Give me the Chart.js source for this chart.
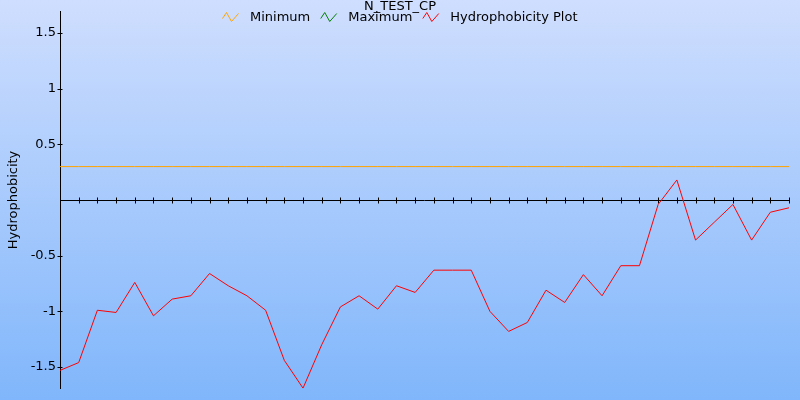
<!DOCTYPE html>
<html>
<head>
<meta charset="utf-8">
<script src="https://cdn.jsdelivr.net/npm/chart.js@4"></script>
<style>
  html, body { margin: 0; padding: 0; }
  #wrap {
    width: 800px; height: 400px;
    background: linear-gradient(#cfdefe, #80b6fb);
  }
</style>
</head>
<body>
<div id="wrap"><canvas id="myChart" width="800" height="400"></canvas></div>
<script>
const chartTitle = "N_TEST_CP";
const positions = [];
for (let i = 0; i < 40; i++) positions.push(i);
const hydrophobicity = [
  -1.53, -1.46, -0.99, -1.01, -0.74, -1.04, -0.89, -0.86, -0.66, -0.77,
  -0.86, -0.99, -1.44, -1.69, -1.30, -0.96, -0.86, -0.98, -0.77, -0.83,
  -0.63, -0.63, -0.63, -1.00, -1.18, -1.10, -0.81, -0.92, -0.67, -0.86,
  -0.59, -0.59, -0.04, 0.18, -0.36, -0.20, -0.04, -0.36, -0.11, -0.07
];
const minimum = positions.map(() => 0.30);
const maximum = [];
const yTicks = [-1.5, -1, -0.5, 0, 0.5, 1, 1.5];

const toData = arr => arr.map((v, i) => ({x: positions[i], y: v}));

function drawZigzag(ctx, x, y, color) {
  ctx.strokeStyle = color;
  ctx.lineWidth = 1;
  ctx.beginPath();
  ctx.moveTo(x, y + 1);
  ctx.lineTo(x + 4, y - 5);
  ctx.lineTo(x + 9, y + 4);
  ctx.lineTo(x + 16, y - 4);
  ctx.stroke();
}

const axesPlugin = {
  id: "axesPlugin",
  beforeDatasetsDraw(chart) {
    const ctx = chart.ctx;
    const xs = chart.scales.x, ys = chart.scales.y;
    const y0 = Math.round(ys.getPixelForValue(0)) + 0.5;
    ctx.save();
    ctx.strokeStyle = "#000";
    ctx.lineWidth = 1;
    ctx.beginPath();
    ctx.moveTo(xs.left, y0);
    ctx.lineTo(xs.right, y0);
    positions.forEach(p => {
      if (p === 0) return;
      const px = Math.round(xs.getPixelForValue(p)) + 0.5;
      ctx.moveTo(px, y0 - 3);
      ctx.lineTo(px, y0 + 3);
    });
    const lx = Math.round(ys.right) + 0.5;
    yTicks.forEach(v => {
      if (v === 0) return;
      const py = Math.round(ys.getPixelForValue(v)) + 0.5;
      ctx.moveTo(lx - 3, py);
      ctx.lineTo(lx + 2, py);
    });
    ctx.stroke();
    ctx.restore();
  },
  afterDraw(chart) {
    const ctx = chart.ctx;
    ctx.save();
    ctx.fillStyle = "#000";
    ctx.font = "13px 'DejaVu Sans'";
    ctx.textAlign = "center";
    ctx.textBaseline = "alphabetic";
    ctx.fillText(chartTitle, 400, 10);

    // legend row, centred under the title
    const items = chart.data.datasets.map(d => ({
      text: d.label, color: d.borderColor, w: ctx.measureText(d.label).width
    }));
    const iconW = 17, gapIcon = 11, gapItem = 10;
    let total = 0;
    items.forEach((it, i) => {
      total += iconW + gapIcon + it.w + (i < items.length - 1 ? gapItem : 0);
    });
    let x = Math.round(400 - total / 2);
    ctx.textAlign = "left";
    ctx.textBaseline = "middle";
    items.forEach(it => {
      drawZigzag(ctx, x + 0.5, 17.5, it.color);
      x += iconW + gapIcon;
      ctx.fillStyle = "#000";
      ctx.fillText(it.text, x, 18);
      x += it.w + gapItem;
    });
    ctx.restore();
  }
};

const myChart = document.getElementById("myChart");
const chart = new Chart(myChart, {
  type: "line",
  data: {
    datasets: [
      {
        label: "Minimum",
        data: toData(minimum),
        borderColor: "#ffa500",
        borderWidth: 1,
        pointRadius: 0,
      },
      {
        label: "Maximum",
        data: toData(maximum),
        borderColor: "#008000",
        borderWidth: 1,
        pointRadius: 0,
      },
      {
        label: "Hydrophobicity Plot",
        data: toData(hydrophobicity),
        borderColor: "#ff0000",
        borderWidth: 1,
        pointRadius: 0,
      },
    ],
  },
  options: {
    responsive: false,
    animation: false,
    layout: {
      padding: {top: 10, right: 11, bottom: 11, left: 0},
    },
    scales: {
      x: {
        type: "linear",
        min: 0,
        max: 39,
        display: false,
      },
      y: {
        min: -1.69,
        max: 1.69,
        afterFit: s => { s.width = 60; },
        afterBuildTicks: s => { s.ticks = yTicks.map(v => ({value: v})); },
        grid: {display: false, drawTicks: false},
        border: {display: true, color: "#000", width: 1},
        ticks: {
          padding: 4,
          color: "#000",
          font: {family: "DejaVu Sans", size: 13},
          callback: v => (v === 0 ? "" : v),
        },
        title: {
          display: true,
          text: "Hydrophobicity",
          color: "#000",
          font: {family: "DejaVu Sans", size: 13},
          padding: {top: 6, bottom: 0},
        },
      },
    },
    plugins: {
      legend: {display: false},
      title: {display: false},
      tooltip: {enabled: false},
    },
  },
  plugins: [axesPlugin],
});
</script>
</body>
</html>
